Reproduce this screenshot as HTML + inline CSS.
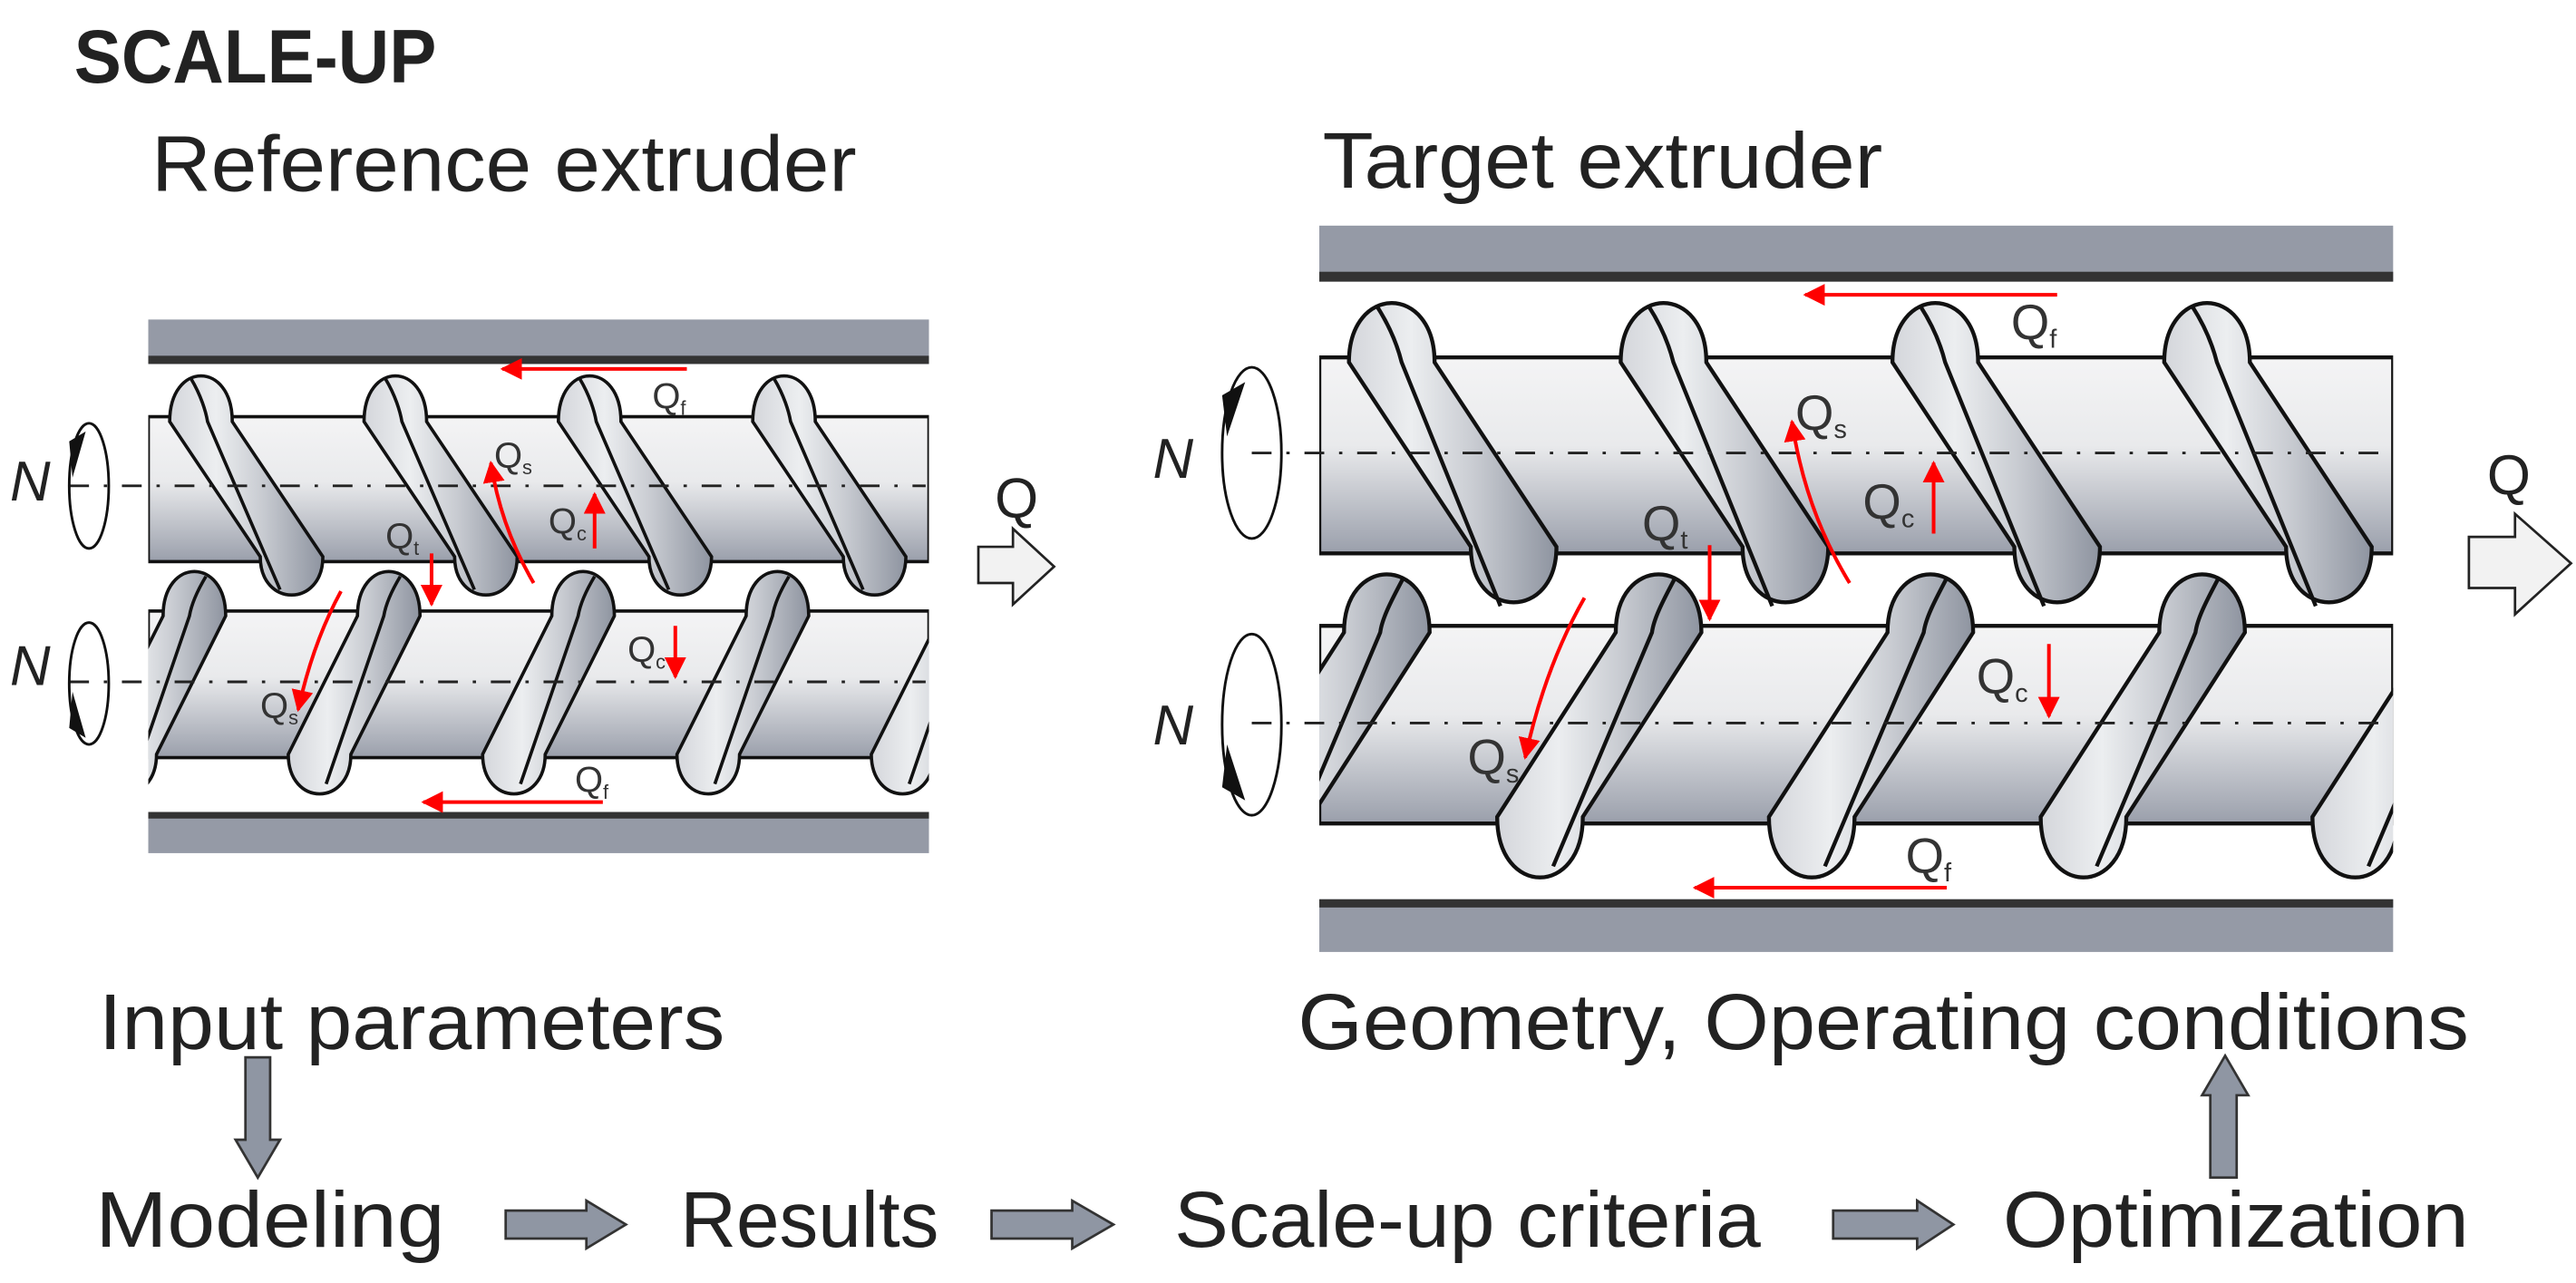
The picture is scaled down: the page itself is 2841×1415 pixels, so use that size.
<!DOCTYPE html>
<html><head><meta charset="utf-8"><style>html,body{margin:0;padding:0;background:#fff}svg{display:block}</style></head>
<body>
<svg xmlns="http://www.w3.org/2000/svg" width="2841" height="1415" viewBox="0 0 1564 779">
<defs>
<linearGradient id="body" x1="0" y1="0" x2="0" y2="1">
<stop offset="0" stop-color="#f4f4f5"/><stop offset="0.45" stop-color="#e9eaec"/><stop offset="1" stop-color="#9a9fab"/></linearGradient>
<linearGradient id="flt" x1="0" y1="0" x2="1" y2="0">
<stop offset="0" stop-color="#d4d6db"/><stop offset="0.3" stop-color="#eceef0"/><stop offset="0.6" stop-color="#c9ccd2"/><stop offset="1" stop-color="#8e94a0"/></linearGradient>
<clipPath id="c1"><rect x="90" y="200" width="474" height="170"/></clipPath>
<clipPath id="c2"><rect x="90" y="344" width="474" height="145"/></clipPath>
<clipPath id="c3"><rect x="801" y="175" width="652" height="200"/></clipPath>
<clipPath id="c4"><rect x="801" y="342" width="652" height="198"/></clipPath>
<g id="f1"><path d="M-19,256 C-19,219 19,219 19,256 L74,338 C74,369 36,369 36,338 Z"/><path fill="none" d="M-6,230 C0,240 3,250 4,256 L48,358"/></g>
<g id="f2"><path d="M-19,374 C-19,338 19,338 19,374 L-23,458 C-23,490 -61,490 -61,458 Z"/><path fill="none" d="M7,350 C1,360 -2,368 -3,374 L-38,476"/></g>
<g id="f3"><path d="M-26,220 C-26,172 26,172 26,220 L100,332 C100,377 48,377 48,332 Z"/><path fill="none" d="M-9,186 C0,200 4,212 6,220 L66,368"/></g>
<g id="f4"><path d="M-26,384 C-26,337 26,337 26,384 L-46,496 C-46,545 -98,545 -98,496 Z"/><path fill="none" d="M10,351 C2,366 -3,376 -4,384 L-64,526"/></g>
<marker id="ah" viewBox="0 0 10 10" refX="9" refY="5" markerWidth="6" markerHeight="6" orient="auto" markerUnits="strokeWidth"><path d="M0,0 L10,5 L0,10 Z" fill="#f00"/></marker>
</defs>

<g font-family="'Liberation Sans', sans-serif" fill="#222">
<text x="45" y="50" font-size="46" font-weight="bold" textLength="220" lengthAdjust="spacingAndGlyphs">SCALE-UP</text>
<text x="92" y="116" font-size="48" textLength="428" lengthAdjust="spacingAndGlyphs">Reference extruder</text>
<text x="803" y="114" font-size="48" textLength="340" lengthAdjust="spacingAndGlyphs">Target extruder</text>
<text x="60" y="637" font-size="48" textLength="380" lengthAdjust="spacingAndGlyphs">Input parameters</text>
<text x="788" y="637" font-size="48" textLength="711" lengthAdjust="spacingAndGlyphs">Geometry, Operating conditions</text>
<text x="58" y="757" font-size="48" textLength="212" lengthAdjust="spacingAndGlyphs">Modeling</text>
<text x="413" y="757" font-size="48" textLength="157" lengthAdjust="spacingAndGlyphs">Results</text>
<text x="713" y="757" font-size="48" textLength="356" lengthAdjust="spacingAndGlyphs">Scale-up criteria</text>
<text x="1216" y="757" font-size="48" textLength="283" lengthAdjust="spacingAndGlyphs">Optimization</text>
</g>

<g fill="#8f96a3" stroke="#333" stroke-width="1.5">
<path d="M149,642 H164 V692 H170 L156.5,715 L143,692 H149 Z"/>
<path d="M307,735 H356 V729 L380,743.5 L356,758 V752 H307 Z"/>
<path d="M602,735 H651 V729 L676,743.5 L651,758 V752 H602 Z"/>
<path d="M1113,735 H1164 V729 L1186,743.5 L1164,758 V752 H1113 Z"/>
<path d="M1342,715 V665 H1337 L1351,641 L1365,665 H1358 V715 Z"/>
</g>

<rect x="90" y="194" width="474" height="27" fill="#959aa6"/><rect x="90" y="216" width="474" height="5" fill="#333"/>
<rect x="90" y="493" width="474" height="25" fill="#959aa6"/><rect x="90" y="493" width="474" height="4" fill="#333"/>
<rect x="801" y="137" width="652" height="34" fill="#959aa6"/><rect x="801" y="165" width="652" height="6" fill="#333"/>
<rect x="801" y="546" width="652" height="32" fill="#959aa6"/><rect x="801" y="546" width="652" height="5" fill="#333"/>

<g clip-path="url(#c1)" stroke="#111" stroke-width="2">
<rect x="90" y="253" width="474" height="88" fill="url(#body)"/>
<g fill="url(#flt)"><use href="#f1" x="122"/><use href="#f1" x="240"/><use href="#f1" x="358"/><use href="#f1" x="476"/></g>
</g>
<g clip-path="url(#c2)" stroke="#111" stroke-width="2">
<rect x="90" y="371" width="474" height="89" fill="url(#body)"/>
<g fill="url(#flt)"><use href="#f2" x="118"/><use href="#f2" x="236"/><use href="#f2" x="354"/><use href="#f2" x="472"/><use href="#f2" x="590"/></g>
</g>
<g clip-path="url(#c3)" stroke="#111" stroke-width="2.4">
<rect x="801" y="217" width="652" height="119" fill="url(#body)"/>
<g fill="url(#flt)"><use href="#f3" x="845"/><use href="#f3" x="1010"/><use href="#f3" x="1175"/><use href="#f3" x="1340"/></g>
</g>
<g clip-path="url(#c4)" stroke="#111" stroke-width="2.4">
<rect x="801" y="380" width="652" height="120" fill="url(#body)"/>
<g fill="url(#flt)"><use href="#f4" x="842"/><use href="#f4" x="1007"/><use href="#f4" x="1172"/><use href="#f4" x="1337"/><use href="#f4" x="1502"/></g>
</g>

<g stroke="#222" stroke-width="1.6" stroke-dasharray="12,9,2,9">
<line x1="42" y1="295" x2="562" y2="295"/>
<line x1="42" y1="414" x2="562" y2="414"/>
<line x1="760" y1="275" x2="1450" y2="275"/>
<line x1="760" y1="439" x2="1450" y2="439"/>
</g>

<g fill="none" stroke="#111" stroke-width="1.6">
<ellipse cx="54" cy="295" rx="12" ry="38"/><ellipse cx="54" cy="415" rx="12" ry="37"/>
<ellipse cx="760" cy="275" rx="18" ry="52"/><ellipse cx="760" cy="440" rx="18" ry="55"/>
</g>
<g fill="#111">
<path d="M42,268 L52,262 L44,290 Z"/><path d="M42,442 L52,448 L44,420 Z"/>
<path d="M742,240 L756,232 L745,265 Z"/><path d="M742,478 L756,486 L745,452 Z"/>
</g>
<g font-family="'Liberation Sans', sans-serif" font-style="italic" fill="#222" font-size="34">
<text x="6" y="304">N</text><text x="6" y="416">N</text>
<text x="700" y="290">N</text><text x="700" y="452">N</text>
</g>

<g fill="#f2f2f2" stroke="#222" stroke-width="1.5">
<path d="M594,332 H615 V321 L640,344 L615,367 V354 H594 Z"/>
<path d="M1499,326 H1527 V312 L1561,342 L1527,373 V357 H1499 Z"/>
</g>
<g font-family="'Liberation Sans', sans-serif" fill="#222" font-size="34">
<text x="604" y="314">Q</text><text x="1510" y="300">Q</text>
</g>

<g stroke="#f00" stroke-width="2.2" fill="none" marker-end="url(#ah)">
<line x1="417" y1="224" x2="305" y2="224"/>
<path d="M324,354 Q304,320 298,281"/>
<line x1="361" y1="333" x2="361" y2="300"/>
<line x1="262" y1="336" x2="262" y2="367"/>
<path d="M207,359 Q190,390 181,431"/>
<line x1="410" y1="380" x2="410" y2="411"/>
<line x1="366" y1="487" x2="257" y2="487"/>
<line x1="1249" y1="179" x2="1096" y2="179"/>
<path d="M1123,354 Q1096,310 1088,256"/>
<line x1="1174" y1="324" x2="1174" y2="281"/>
<line x1="1038" y1="331" x2="1038" y2="376"/>
<path d="M962,363 Q938,405 926,460"/>
<line x1="1244" y1="391" x2="1244" y2="435"/>
<line x1="1182" y1="539" x2="1029" y2="539"/>
</g>

<g font-family="'Liberation Sans', sans-serif" fill="#333">
<g font-size="22">
<text x="396" y="248">Q<tspan font-size="12" dy="4">f</tspan></text>
<text x="300" y="284">Q<tspan font-size="12" dy="4">s</tspan></text>
<text x="333" y="324">Q<tspan font-size="12" dy="4">c</tspan></text>
<text x="234" y="333">Q<tspan font-size="12" dy="4">t</tspan></text>
<text x="158" y="436">Q<tspan font-size="12" dy="4">s</tspan></text>
<text x="381" y="402">Q<tspan font-size="12" dy="4">c</tspan></text>
<text x="349" y="481">Q<tspan font-size="12" dy="4">f</tspan></text>
</g>
<g font-size="30">
<text x="1221" y="206">Q<tspan font-size="16" dy="5">f</tspan></text>
<text x="1090" y="261">Q<tspan font-size="16" dy="5">s</tspan></text>
<text x="1131" y="315">Q<tspan font-size="16" dy="5">c</tspan></text>
<text x="997" y="328">Q<tspan font-size="16" dy="5">t</tspan></text>
<text x="891" y="470">Q<tspan font-size="16" dy="5">s</tspan></text>
<text x="1200" y="421">Q<tspan font-size="16" dy="5">c</tspan></text>
<text x="1157" y="530">Q<tspan font-size="16" dy="5">f</tspan></text>
</g>
</g>
</svg>
</body></html>
